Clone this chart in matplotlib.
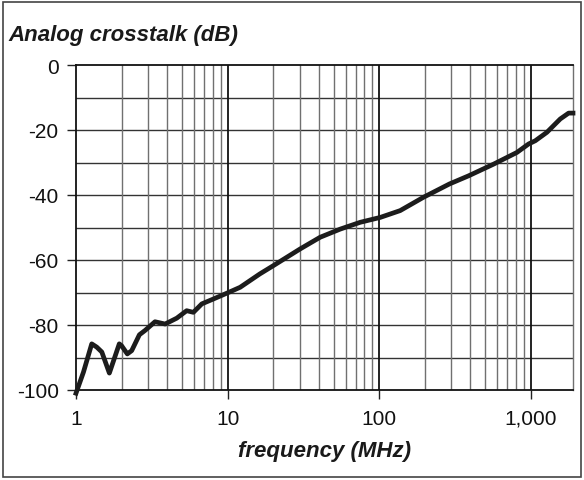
import matplotlib
matplotlib.use('Agg')
import matplotlib.pyplot as plt
from matplotlib.patches import Rectangle
from matplotlib.ticker import FixedLocator, FuncFormatter, NullFormatter

plt.rcParams['font.family'] = ['Liberation Sans', 'DejaVu Sans']
plt.rcParams['axes.unicode_minus'] = False

# measured crosstalk curve
freq_mhz = [1.0, 1.12, 1.27, 1.37, 1.48, 1.66, 1.93, 2.0, 2.18, 2.33,
            2.62, 2.85, 3.32, 3.87, 4.62, 5.37, 5.95, 6.76, 8.06, 9.9,
            12.1, 16.3, 20.1, 30.1, 40.8, 55.3, 75.0, 101.6, 137.6, 196.0,
            291.0, 389.0, 569.0, 811.0, 968.0, 1072.0, 1279.0, 1566.0, 1778.0, 1900.0]
crosstalk_db = [-101.0, -94.5, -85.8, -86.8, -88.3, -94.8, -85.8, -86.4, -88.9, -87.9,
                -83.0, -81.7, -79.0, -79.7, -77.9, -75.6, -76.1, -73.5, -72.0, -70.2,
                -68.4, -64.3, -61.7, -56.6, -53.0, -50.5, -48.4, -46.9, -44.8, -40.7,
                -36.6, -34.1, -30.5, -26.9, -24.3, -23.3, -20.7, -16.6, -14.8, -14.8]

x_ticks = [1, 10, 100, 1000]
y_ticks = [0, -20, -40, -60, -80, -100]

fig = plt.figure(figsize=(5.84, 4.81), dpi=100)
ax = fig.add_axes([76 / 584, 1 - 391 / 481, 497 / 584, 325 / 481])

ax.set_xscale('log')
ax.set_xlim(1, 1900)
ax.set_ylim(-100, 0)

# grid: horizontal every 10 dB, vertical at each log step
for y in range(-90, 0, 10):
    ax.axhline(y, color='#333333', lw=1.0, zorder=1)
minors = [m * 10 ** d for d in range(4) for m in range(2, 10) if m * 10 ** d < 1900]
for x in minors:
    ax.axvline(x, color='#707070', lw=1.0, zorder=1)
for x in x_ticks[1:]:
    ax.axvline(x, color='#111111', lw=1.3, zorder=1)

ax.plot(freq_mhz, crosstalk_db, color='#1c1c1c', lw=3.4, zorder=3,
        solid_joinstyle='round', clip_on=False)

ax.xaxis.set_major_locator(FixedLocator(x_ticks))
ax.xaxis.set_minor_locator(FixedLocator([]))
ax.xaxis.set_minor_formatter(NullFormatter())
ax.xaxis.set_major_formatter(FuncFormatter(lambda v, p: f'{int(v):,}'))
ax.set_yticks(y_ticks)
ax.tick_params(axis='both', direction='out', length=6.5, width=1.0,
               color='#222222', labelsize=15, labelcolor='#111111')
ax.tick_params(axis='x', pad=7)
ax.tick_params(axis='y', pad=6)

for side in ['left', 'top', 'bottom']:
    ax.spines[side].set_color('#111111')
    ax.spines[side].set_linewidth(1.3)
ax.spines['right'].set_color('#707070')
ax.spines['right'].set_linewidth(1.0)

ax.set_xlabel('frequency (MHz)', fontsize=16, fontweight='bold',
              fontstyle='italic', color='#1a1a1a', labelpad=9)
fig.text(8 / 584, 1 - 41 / 481, 'Analog crosstalk (dB)', fontsize=16,
         fontweight='bold', fontstyle='italic', color='#1a1a1a')

# outer frame
fig.patches.append(Rectangle((3 / 584, 3 / 481), 578 / 584, 475 / 481,
                             transform=fig.transFigure, fill=False,
                             edgecolor='#444444', lw=1.2))

fig.savefig('out.png', dpi=100)
